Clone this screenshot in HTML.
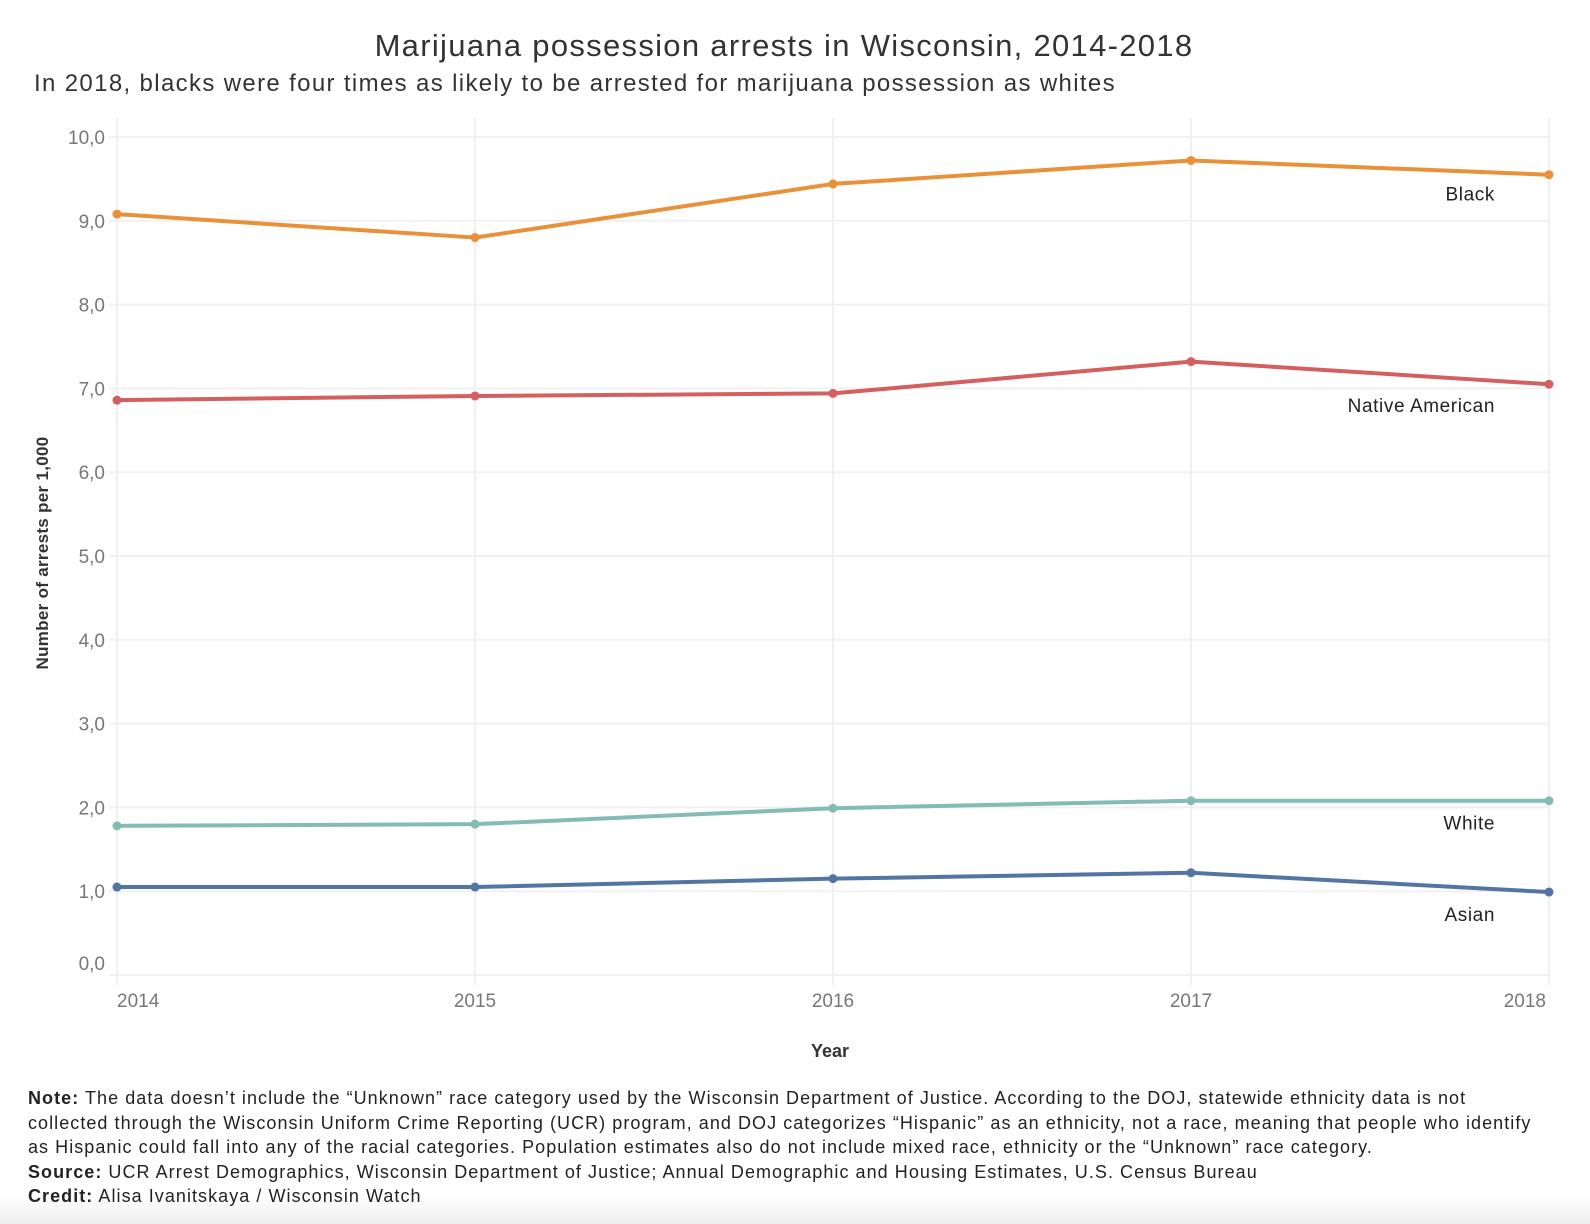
<!DOCTYPE html>
<html><head><meta charset="utf-8"><style>
body{margin:0;width:1590px;height:1224px;background:#fff;font-family:"Liberation Sans",sans-serif;overflow:hidden;position:relative}
#title{position:absolute;top:28px;left:0;width:1568px;text-align:center;font-size:31px;color:#333;letter-spacing:1.3px}
#sub{position:absolute;top:70px;left:34px;font-size:24px;color:#333;letter-spacing:1.35px}
#notes{position:absolute;top:1086px;left:28px;font-size:18px;line-height:24.5px;color:#222;width:1560px;letter-spacing:1.05px;white-space:nowrap;z-index:2}
#fade{position:absolute;left:0;top:1195px;width:1590px;height:29px;background:linear-gradient(#fff,#eee);z-index:1}
svg{position:absolute;left:0;top:0}
</style></head><body>
<div id="title">Marijuana possession arrests in Wisconsin, 2014-2018</div>
<div id="sub">In 2018, blacks were four times as likely to be arrested for marijuana possession as whites</div>
<svg id="chart" width="1590" height="1224"></svg>
<div id="fade"></div>
<div id="notes"><b>Note:</b> The data doesn’t include the “Unknown” race category used by the Wisconsin Department of Justice. According to the DOJ, statewide ethnicity data is not<br>collected through the Wisconsin Uniform Crime Reporting (UCR) program, and DOJ categorizes “Hispanic” as an ethnicity, not a race, meaning that people who identify<br>as Hispanic could fall into any of the racial categories. Population estimates also do not include mixed race, ethnicity or the “Unknown” race category.<br><b>Source:</b> UCR Arrest Demographics, Wisconsin Department of Justice; Annual Demographic and Housing Estimates, U.S. Census Bureau<br><b>Credit:</b> Alisa Ivanitskaya / Wisconsin Watch</div>
<script>
const years=[2014,2015,2016,2017,2018];
const yTicks=[0,1,2,3,4,5,6,7,8,9,10];
const seriesNames=["Black","Native American","White","Asian"];
const black=[9.08,8.80,9.44,9.72,9.55];
const native=[6.86,6.91,6.94,7.32,7.05];
const white=[1.78,1.80,1.99,2.08,2.08];
const asian=[1.05,1.05,1.15,1.22,0.99];
const series=[black,native,white,asian];
const colors=["#e8913a","#d45f5f","#83bcb2","#5275a4"];
const labelOffsets=[19,21,22,22];
const NS="http://www.w3.org/2000/svg";
const svg=document.getElementById('chart');
const X0=117,X1=1549,Y0=975,Y1=137;
const xs=y=>X0+(y-years[0])/(years[years.length-1]-years[0])*(X1-X0);
const ys=v=>Y0-(v-0)/(10-0)*(Y0-Y1);
function mk(t,a){const e=document.createElementNS(NS,t);for(const k in a)e.setAttribute(k,a[k]);svg.appendChild(e);return e;}
yTicks.forEach(t=>{
 const g=mk('line',{x1:X0-8,x2:X1+2,y1:ys(t),y2:ys(t),stroke:'#f0f0f0','stroke-width':2});
 
 
 const l=mk('text',{x:105,y:(t===0?ys(t)-5:ys(t)+7),'text-anchor':'end','font-size':19,fill:'#777'});
 l.textContent=t.toFixed(1).replace('.',',');
 
 
});
years.forEach((yr,i)=>{
 const g=mk('line',{x1:xs(yr),x2:xs(yr),y1:118,y2:985,stroke:'#f0f0f0','stroke-width':2});
 
 
 const anchor=i===0?'start':(i===years.length-1?'end':'middle');
 const l=mk('text',{x:i===years.length-1?xs(yr)-3:xs(yr),y:1007,'text-anchor':anchor,'font-size':19,fill:'#777'});
 l.textContent=yr;
 
 
});
const yt=mk('text',{x:0,y:0,transform:'translate(48,553) rotate(-90)','text-anchor':'middle','font-size':17,'font-weight':'bold',fill:'#333','letter-spacing':'0.3'});
yt.textContent='Number of arrests per 1,000';


const xt=mk('text',{x:830,y:1057,'text-anchor':'middle','font-size':18,'font-weight':'bold',fill:'#333'});
xt.textContent='Year';


series.forEach((s,si)=>{
 const pts=s.map((v,i)=>xs(years[i])+','+ys(v)).join(' ');
 const pl=mk('polyline',{points:pts,fill:'none',stroke:colors[si],'stroke-width':4,'stroke-linejoin':'round'});
 
 
 s.forEach((v,i)=>{
  const c=mk('circle',{cx:xs(years[i]),cy:ys(v),r:4.5,fill:colors[si]});
  
  
 });
 const lb=mk('text',{x:1495,y:ys(s[s.length-1])+labelOffsets[si]+7,'text-anchor':'end','font-size':19,fill:'#222','letter-spacing':'0.6'});
 lb.textContent=seriesNames[si];
 
 
});
</script>
</body></html>
